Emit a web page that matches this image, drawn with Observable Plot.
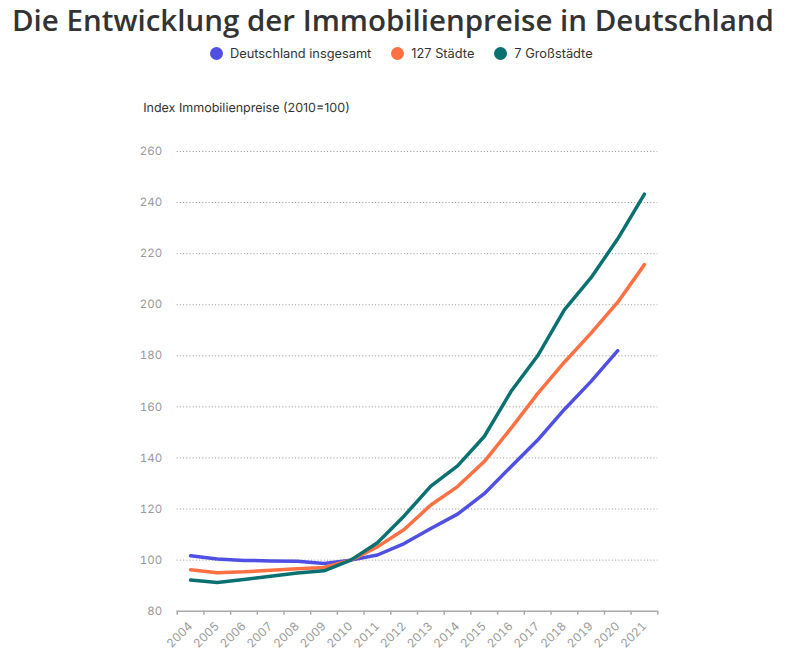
<!DOCTYPE html>
<html>
<head>
<meta charset="utf-8">
<script src="https://cdn.jsdelivr.net/npm/d3@7"></script>
<script src="https://cdn.jsdelivr.net/npm/@observablehq/plot@0.6"></script>
<style>
  html, body { margin: 0; padding: 0; background: #fff; }
  #wrap { width: 811px; height: 664px; position: relative; overflow: hidden; }
  #title { position: absolute; left: 12px; top: 6px; font-family: "Open Sans", Lato, sans-serif; font-weight: 600; font-size: 29.5px; color: #333; white-space: nowrap; line-height: 28px; }
  #legend { position: absolute; left: 210px; top: 46px; display: flex; align-items: center; font-family: Inter, sans-serif; font-size: 12.8px; color: #333; white-space: nowrap; }
  .item { display: flex; align-items: center; margin-right: 20px; }
  .sw { width: 13px; height: 13px; border-radius: 50%; margin-right: 7px; }
  #chart { position: absolute; left: 0; top: 80px; }
  #chart svg text { -webkit-font-smoothing: antialiased; text-rendering: geometricPrecision; }
</style>
</head>
<body>
<div id="wrap">
  <div id="title">Die Entwicklung der Immobilienpreise in Deutschland</div>
  <div id="legend"></div>
  <div id="chart"></div>
</div>
<script>
const years = [2004, 2005, 2006, 2007, 2008, 2009, 2010, 2011, 2012, 2013, 2014, 2015, 2016, 2017, 2018, 2019, 2020, 2021];
const seriesNames = ["Deutschland insgesamt", "127 Städte", "7 Großstädte"];
const seriesColors = ["#4f4fe3", "#ff7043", "#0a7070"];
const deutschland = [101.7, 100.4, 99.9, 99.7, 99.6, 98.7, 100, 102, 106.5, 112.4, 118, 126, 136.6, 147, 159, 170, 182, null];
const staedte127 = [96.2, 95.1, 95.4, 96, 96.6, 97.1, 100, 105.2, 112, 121.6, 128.8, 138.6, 151.6, 165.2, 177.5, 188.9, 201, 215.7];
const grossstaedte7 = [92.2, 91.2, 92.4, 93.7, 95, 95.8, 100, 106.8, 117.3, 129, 136.9, 148.4, 166, 180, 198, 210.6, 225.8, 243.3];
const yTicks = [80, 100, 120, 140, 160, 180, 200, 220, 240, 260];
const yTitle = "Index Immobilienpreise (2010=100)";

const valuesBySeries = [deutschland, staedte127, grossstaedte7];
const rows = [];
seriesNames.forEach((name, i) => {
  years.forEach((yr, j) => {
    const v = valuesBySeries[i][j];
    if (v != null) rows.push({series: name, year: yr, value: v});
  });
});

// legend
const legend = document.getElementById("legend");
seriesNames.forEach((name, i) => {
  const it = document.createElement("div");
  it.className = "item";
  const sw = document.createElement("div");
  sw.className = "sw";
  sw.style.background = seriesColors[i];
  const tx = document.createElement("span");
  tx.textContent = name;
  it.appendChild(sw); it.appendChild(tx);
  legend.appendChild(it);
});

const boundaries = years.map(y => y - 0.5).concat([years[years.length - 1] + 0.5]);
const yMin = yTicks[0];

const plot = Plot.plot({
  width: 811,
  height: 584,
  marginLeft: 176.7,
  marginRight: 153.7,
  marginTop: 71,
  marginBottom: 53.3,
  style: {fontFamily: "Inter, sans-serif", background: "#fff", overflow: "visible"},
  x: {type: "linear", domain: [years[0] - 0.5, years[years.length - 1] + 0.5]},
  y: {type: "linear", domain: [yTicks[0], yTicks[yTicks.length - 1]]},
  color: {domain: seriesNames, range: seriesColors},
  marks: [
    Plot.ruleY(yTicks.slice(1), {stroke: "#888", strokeOpacity: 0.9, strokeWidth: 1, strokeDasharray: "1,2.2"}),
    Plot.ruleY([yMin], {stroke: "#aaa", strokeWidth: 1.5}),
    Plot.ruleX(boundaries, {x: d => d, y1: yMin, y2: yMin, insetBottom: -4, stroke: "#aaa", strokeWidth: 1.5}),
    Plot.axisY({ticks: yTicks, tickSize: 0, tickPadding: 15, fontSize: 11.5, fill: "#999", label: null}),
    Plot.axisX({ticks: years, tickSize: 0, tickPadding: 13, tickRotate: -45, tickFormat: d => String(d), fontSize: 11.8, fill: "#999", label: null}),
    Plot.text([yTitle], {frameAnchor: "top-left", text: d => d, dx: -34, dy: -48, fontSize: 12.5, fill: "#333", textAnchor: "start"}),
    Plot.line(rows, {x: "year", y: "value", z: "series", stroke: "series", strokeWidth: 3.5, strokeLinejoin: "round", strokeLinecap: "round"})
  ]
});
document.getElementById("chart").appendChild(plot);
</script>
</body>
</html>
